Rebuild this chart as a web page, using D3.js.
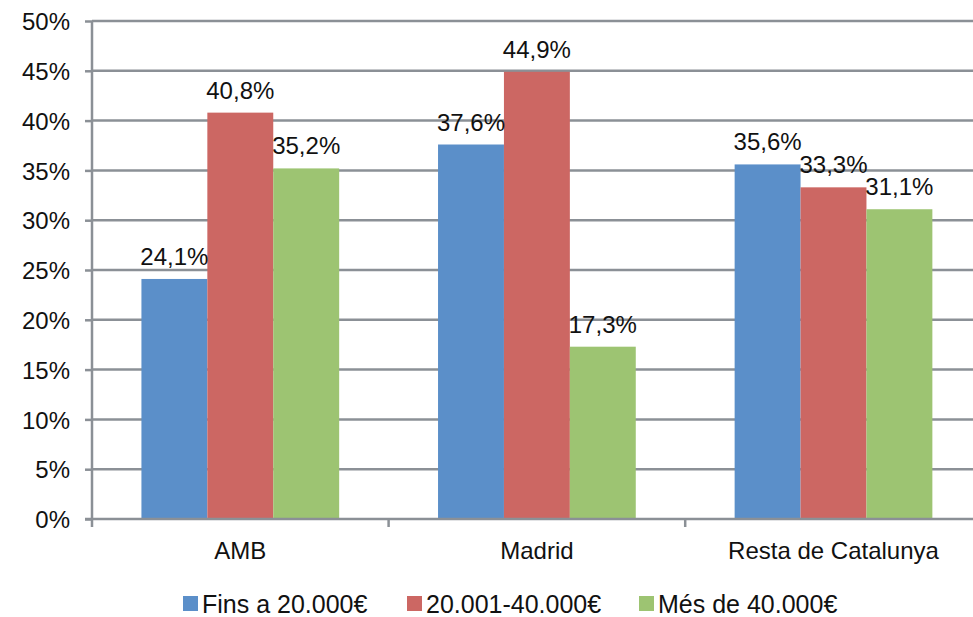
<!DOCTYPE html>
<html><head><meta charset="utf-8">
<script src="https://cdn.jsdelivr.net/npm/d3@7"></script>
<style>
html,body{margin:0;padding:0;background:#fff;}
svg{display:block;font-family:"Liberation Sans",Arial,sans-serif;}
</style></head>
<body>
<svg id="c" width="973" height="617"></svg>
<script>
const categories = ["AMB", "Madrid", "Resta de Catalunya"];
const seriesNames = ["Fins a 20.000€", "20.001-40.000€", "Més de 40.000€"];
const fins20000 = [24.1, 37.6, 35.6];
const de20001a40000 = [40.8, 44.9, 33.3];
const mesDe40000 = [35.2, 17.3, 31.1];
const yTicks = [0, 5, 10, 15, 20, 25, 30, 35, 40, 45, 50];
const colors = ["#5b8fc9", "#cc6763", "#9dc472"];

(function () {
const seriesValues = [fins20000, de20001a40000, mesDe40000];
const svg = d3.select("#c");
const mLeft = 92, mBottom = 519, mTop = 21, band = 296.6;
const fs = 24, txt = "#111";
const x0 = d3.scaleBand().domain(categories).range([mLeft, mLeft + band * 3]).paddingInner(0).paddingOuter(0);
const y = d3.scaleLinear().domain([0, 50]).range([mBottom, mTop]);
const fmt = v => v.toFixed(1).replace(".", ",") + "%";

const groupW = x0.bandwidth() * 2 / 3;
const xs = d3.scaleBand().domain(seriesNames).range([(x0.bandwidth() - groupW) / 2, (x0.bandwidth() + groupW) / 2]);

const gridColor = "#8b9096";
const yAxis = d3.axisLeft(y).tickValues(yTicks).tickSize(7).tickFormat(d => d + "%");
const gy = svg.append("g").attr("transform", `translate(${mLeft},0)`).call(yAxis);
gy.select(".domain").remove();
gy.selectAll(".tick line").attr("stroke", gridColor).attr("stroke-width", 2.5);
gy.selectAll(".tick text").attr("x", -22).attr("font-size", fs).attr("fill", txt).attr("dy", "0.36em")
  .attr("font-family", "Liberation Sans, Arial, sans-serif");
svg.append("g").selectAll("line").data(yTicks.filter(d => d > 0)).join("line")
  .attr("x1", mLeft).attr("x2", 973).attr("y1", d => y(d)).attr("y2", d => y(d))
  .attr("stroke", gridColor).attr("stroke-width", 2.5);

const groups = svg.append("g").selectAll("g").data(categories).join("g")
  .attr("transform", d => `translate(${x0(d)},0)`);
const rows = (c, i) => seriesNames.map((s, j) => ({s, j, v: seriesValues[j][i]}));
groups.selectAll("rect").data(rows).join("rect")
  .attr("x", d => xs(d.s)).attr("width", xs.bandwidth())
  .attr("y", d => y(d.v)).attr("height", d => y(0) - y(d.v))
  .attr("fill", d => colors[d.j]);
groups.selectAll("text").data(rows).join("text")
  .attr("x", d => xs(d.s) + xs.bandwidth() / 2).attr("y", d => y(d.v) - 14)
  .attr("text-anchor", "middle").attr("font-size", fs).attr("fill", txt)
  .text(d => fmt(d.v));

const xAxis = d3.axisBottom(x0).tickSize(0).tickFormat(d => d);
const gx = svg.append("g").attr("transform", `translate(0,${mBottom})`).call(xAxis);
gx.select(".domain").remove();
gx.selectAll(".tick text").attr("font-size", fs).attr("fill", txt).attr("y", 40).attr("dy", 0)
  .attr("font-family", "Liberation Sans, Arial, sans-serif");
svg.append("line").attr("x1", mLeft - 7).attr("x2", 973).attr("y1", mBottom).attr("y2", mBottom)
  .attr("stroke", gridColor).attr("stroke-width", 2.5);
svg.append("line").attr("x1", mLeft).attr("x2", mLeft).attr("y1", mTop).attr("y2", mBottom + 8)
  .attr("stroke", gridColor).attr("stroke-width", 2.5);
svg.append("g").selectAll("line").data(categories.slice(1)).join("line")
  .attr("x1", d => x0(d)).attr("x2", d => x0(d)).attr("y1", mBottom).attr("y2", mBottom + 8)
  .attr("stroke", gridColor).attr("stroke-width", 2.5);

const legendX = [183, 407, 639];
const lg = svg.append("g").selectAll("g").data(seriesNames).join("g")
  .attr("transform", (d, i) => `translate(${legendX[i]},596)`);
lg.append("rect").attr("width", 15).attr("height", 15).attr("fill", (d, i) => colors[i]);
lg.append("text").attr("x", 19).attr("y", 17).attr("font-size", 25).attr("fill", txt).text(d => d);
})();
</script>
</body></html>
